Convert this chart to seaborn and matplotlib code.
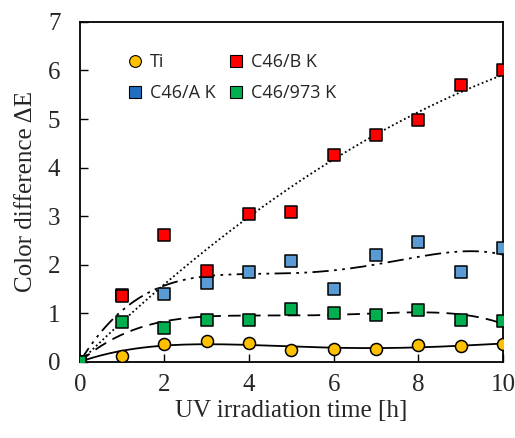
import numpy as np
import pandas as pd
import matplotlib
matplotlib.use("Agg")
import matplotlib.pyplot as plt
import seaborn as sns
from matplotlib.lines import Line2D

sns.set_theme(style="white")
plt.rcParams['font.family'] = ['Liberation Serif', 'DejaVu Serif']

hours = [0, 1, 2, 3, 4, 5, 6, 7, 8, 9, 10]
ti = [0, 0.12, 0.37, 0.42, 0.38, 0.25, 0.27, 0.27, 0.35, 0.32, 0.37]
c46_b = [0, 1.35, 2.62, 1.87, 3.05, 3.08, 4.25, 4.67, 4.97, 5.70, 6.00]
c46_a = [0, 1.38, 1.40, 1.62, 1.84, 2.07, 1.50, 2.20, 2.47, 1.84, 2.35]
c46_973 = [0, 0.82, 0.70, 0.87, 0.86, 1.08, 1.01, 0.97, 1.06, 0.87, 0.83]

series = ["Ti", "C46/A K", "C46/B K", "C46/973 K"]
values = {"Ti": ti, "C46/A K": c46_a, "C46/B K": c46_b, "C46/973 K": c46_973}
colors = {"Ti": "#FFC000", "C46/A K": "#5B9BD5", "C46/B K": "#FF0000", "C46/973 K": "#00B050"}
markers = {"Ti": "o", "C46/A K": "s", "C46/B K": "s", "C46/973 K": "s"}
fit_deg = {"Ti": 4, "C46/A K": 4, "C46/B K": 2, "C46/973 K": 4}
styles = {"Ti": "-", "C46/A K": (0, (9, 3, 1.5, 3, 1.5, 3)), "C46/B K": (0, (1, 1.5)), "C46/973 K": (0, (7, 4))}


def fit_through_origin(x, y, deg):
    x = np.asarray(x, float)
    A = np.column_stack([x ** k for k in range(1, deg + 1)])
    c, *_ = np.linalg.lstsq(A, np.asarray(y, float), rcond=None)
    return c


fig = plt.figure(figsize=(5.15, 4.38), dpi=100)
ax = fig.add_axes([0.155, 0.174, 0.822, 0.776])

xs = np.linspace(0, 10, 200)
for s in series:
    c = fit_through_origin(hours, values[s], fit_deg[s])
    ys = sum(c[k - 1] * xs ** k for k in range(1, fit_deg[s] + 1))
    fit = pd.DataFrame({"x": xs, "y": ys})
    sns.lineplot(data=fit, x="x", y="y", ax=ax, color="black", lw=1.3,
                 linestyle=styles[s], zorder=2)

for s in series:
    df = pd.DataFrame({"x": hours, "y": values[s]})
    sns.scatterplot(data=df, x="x", y="y", ax=ax, marker=markers[s], s=75,
                    color=colors[s], edgecolor="black", linewidth=1.1, zorder=3)

ax.set_xlim(0, 10)
ax.set_ylim(0, 7)
ax.set_xticks(range(0, 11, 2))
ax.set_yticks(range(0, 8))
ax.tick_params(direction="in", length=6, width=1, labelsize=18, color="black",
               left=True, bottom=True)
ax.tick_params(axis="y", pad=14)
ax.tick_params(axis="x", pad=9)
for sp in ax.spines.values():
    sp.set_color("black")
    sp.set_linewidth(1.3)
ax.set_xlabel("UV irradiation time [h]", fontsize=18, labelpad=3)
ax.set_ylabel("Color difference ΔE", fontsize=18, labelpad=8)

handles = [Line2D([], [], marker=markers[s], color="none",
                  markerfacecolor=colors[s] if s != "C46/A K" else "#1F70C1",
                  markeredgecolor="black", markersize=8.5, markeredgewidth=0.8) for s in series]
leg = ax.legend(handles, series, ncol=2, frameon=False, loc="upper left",
                bbox_to_anchor=(0.07, 0.955), prop={"family": "Open Sans", "size": 13},
                handletextpad=0.35, columnspacing=0.6, labelspacing=0.7, handlelength=1.0)

fig.savefig("out.png", dpi=100)
